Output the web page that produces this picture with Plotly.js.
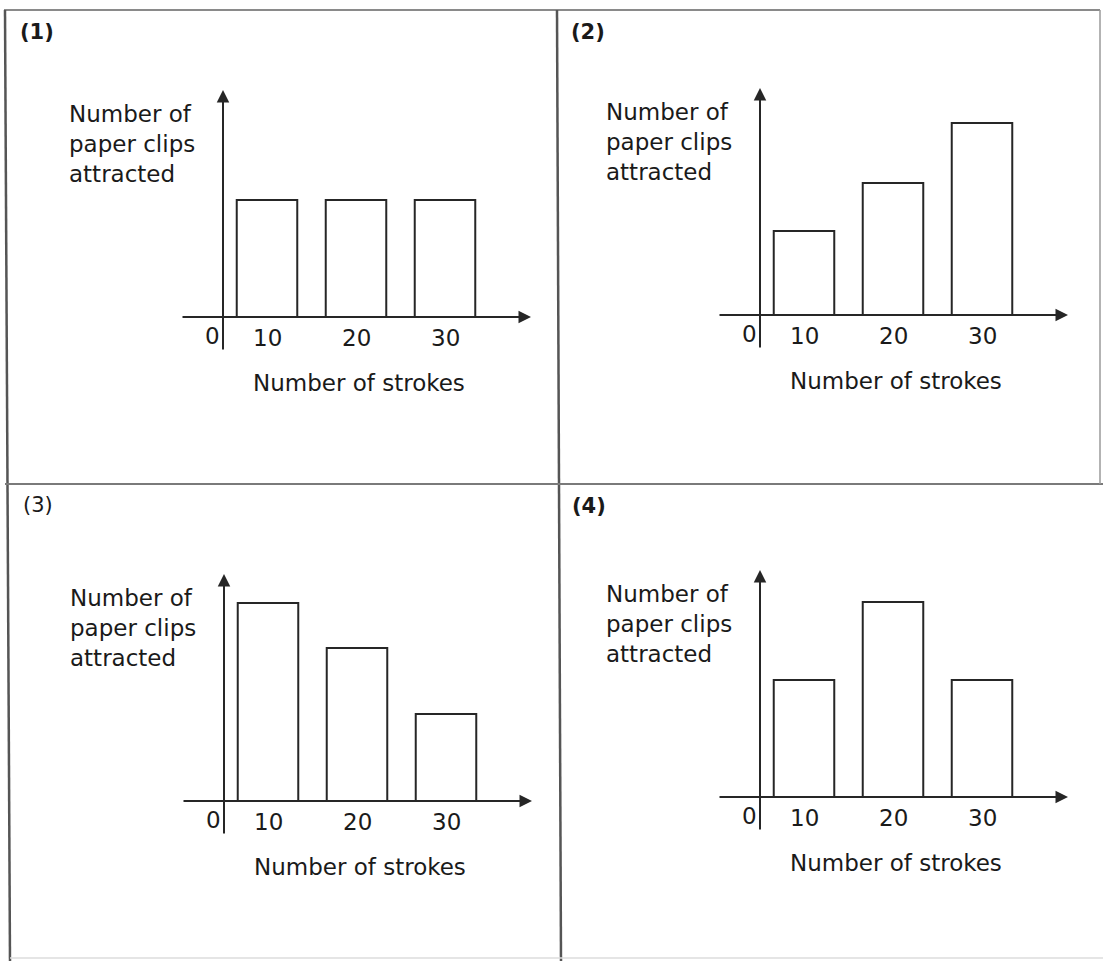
<!DOCTYPE html>
<html>
<head>
<meta charset="utf-8">
<script src="https://cdn.plot.ly/plotly-3.0.1.min.js"></script>
<style>html,body{margin:0;padding:0;background:#ffffff;}</style>
</head>
<body>
<div id="chart" style="width:1103px;height:961px;"></div>
<script>
// ---- data ----
const strokeCategories = ['10', '20', '30'];
const panelLabels = ['(1)', '(2)', '(3)', '(4)'];
const clipsPanel1 = [3.9, 3.9, 3.9];
const clipsPanel2 = [2.8, 4.4, 6.4];
const clipsPanel3 = [6.6, 5.1, 2.9];
const clipsPanel4 = [3.9, 6.5, 3.9];
const originLabel = '0';
const xTitleText = 'Number of strokes';
const yTitleText = 'Number of<br>paper clips<br>attracted';

// ---- layout geometry ----
const W = 1103, H = 961;
const panels = [
  {values: clipsPanel1, origin: [223, 317], label: panelLabels[0], labelPos: [20, 32], bold: true},
  {values: clipsPanel2, origin: [760, 315], label: panelLabels[1], labelPos: [571, 32], bold: true},
  {values: clipsPanel3, origin: [224, 801], label: panelLabels[2], labelPos: [23, 505], bold: false},
  {values: clipsPanel4, origin: [760, 797], label: panelLabels[3], labelPos: [572, 506], bold: true}
];
const FIRST = 44, STEP = 89, UNIT = 30;
const cx = d => (d - FIRST) / STEP;   // pixel offset from y-axis -> category index
const cy = d => d / UNIT;             // pixel offset above x-axis -> value units
const px = x => x / W;
const py = y => 1 - y / H;

const ink = '#262626';
const fam = 'DejaVu Sans, Arial, sans-serif';
const textFont = {family: fam, size: 23, color: '#1a1a1a'};

const data = [];
const annotations = [];
const layout = {
  width: W, height: H,
  margin: {l: 0, r: 0, t: 0, b: 0},
  paper_bgcolor: '#ffffff',
  plot_bgcolor: 'rgba(0,0,0,0)',
  showlegend: false,
  font: {family: fam},
  annotations: annotations,
  shapes: []
};

panels.forEach((p, i) => {
  const n = i === 0 ? '' : String(i + 1);
  const xa = 'x' + n, ya = 'y' + n;
  const [ox, oy] = p.origin;
  layout['xaxis' + n] = {
    domain: [px(ox - 165), px(ox + 325)],
    range: [cx(-165), cx(325)],
    type: 'category', anchor: ya,
    showgrid: false, zeroline: false, showline: false, showticklabels: false, ticks: '',
    fixedrange: true
  };
  layout['yaxis' + n] = {
    domain: [py(oy + 80), py(oy - 290)],
    range: [cy(-80), cy(290)],
    anchor: xa,
    showgrid: false, zeroline: false, showline: false, showticklabels: false, ticks: '',
    fixedrange: true
  };
  data.push({
    type: 'bar', x: strokeCategories, y: p.values, xaxis: xa, yaxis: ya,
    width: 0.68,
    marker: {color: '#ffffff', line: {color: ink, width: 2}},
    hoverinfo: 'skip', showlegend: false
  });
  // x axis arrow
  annotations.push({xref: xa, yref: ya, axref: xa, ayref: ya,
    x: cx(308), y: 0, ax: cx(-42), ay: 0, text: '', showarrow: true,
    arrowhead: 2, arrowsize: 1.25, arrowwidth: 2, arrowcolor: ink, standoff: 0});
  // y axis arrow
  annotations.push({xref: xa, yref: ya, axref: xa, ayref: ya,
    x: cx(0), y: cy(227), ax: cx(0), ay: cy(-34), text: '', showarrow: true,
    arrowhead: 2, arrowsize: 1.25, arrowwidth: 2, arrowcolor: ink, standoff: 0});
  // tick labels
  strokeCategories.forEach((c, j) => {
    annotations.push({xref: xa, yref: ya, x: j, y: cy(-21), text: c,
      showarrow: false, xanchor: 'center', yanchor: 'middle', font: textFont});
  });
  // origin 0
  annotations.push({xref: xa, yref: ya, x: cx(0), y: cy(-19), text: originLabel,
    showarrow: false, xanchor: 'right', yanchor: 'middle', xshift: -1, font: textFont});
  // x title
  annotations.push({xref: xa, yref: ya, x: cx(136), y: cy(-66), text: xTitleText,
    showarrow: false, xanchor: 'center', yanchor: 'middle', font: textFont});
  // y title
  annotations.push({xref: xa, yref: ya, x: cx(-156), y: cy(173), text: yTitleText,
    showarrow: false, xanchor: 'left', yanchor: 'middle', align: 'left', font: textFont});
  // panel label
  annotations.push({xref: 'paper', yref: 'paper', x: px(p.labelPos[0] - 2), y: py(p.labelPos[1]),
    text: p.bold ? '<b>' + p.label + '</b>' : p.label,
    showarrow: false, xanchor: 'left', yanchor: 'middle',
    font: {family: fam, size: 21, color: '#1a1a1a'}});
});

// panel frame lines
const frame = (x0, y0, x1, y1, color, w) => layout.shapes.push({
  type: 'line', xref: 'paper', yref: 'paper',
  x0: px(x0), y0: py(y0), x1: px(x1), y1: py(y1),
  line: {color: color, width: w}
});
frame(4, 10, 1100, 10, '#8a8a8a', 2);
frame(5, 10, 10, 961, '#555555', 2.5);
frame(557, 10, 561, 961, '#555555', 2.5);
frame(5, 484, 1103, 484, '#7a7a7a', 2);
frame(1100, 10, 1100, 484, '#9a9a9a', 1.5);
frame(10, 958, 1103, 958, '#dddddd', 1.5);

Plotly.newPlot('chart', data, layout, {displayModeBar: false, staticPlot: true});
</script>
</body>
</html>
